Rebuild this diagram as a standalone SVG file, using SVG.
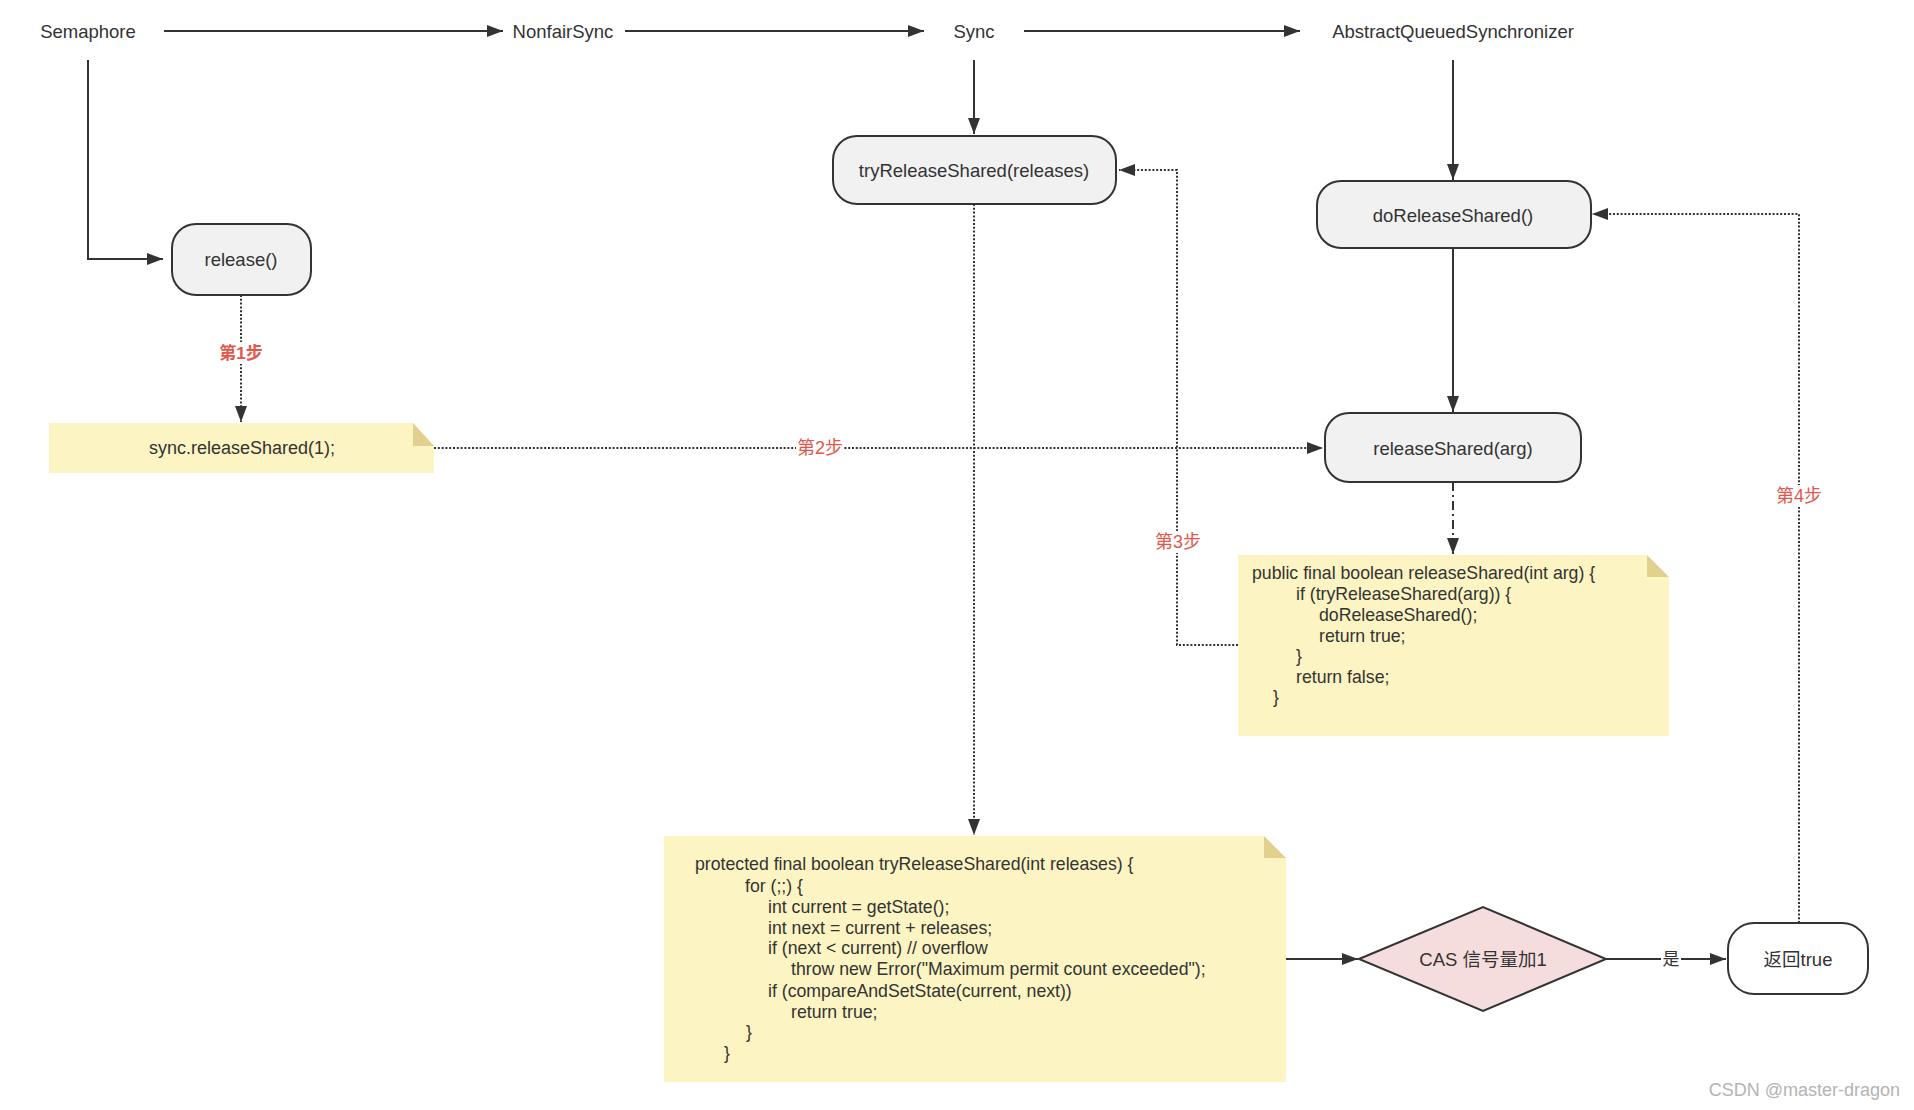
<svg xmlns="http://www.w3.org/2000/svg" width="1914" height="1110" viewBox="0 0 1914 1110">
<style>
text{font-family:"Liberation Sans",Arial,"Noto Sans CJK SC",sans-serif;fill:#333;}
.lbl{font-size:18.5px;text-anchor:middle;dominant-baseline:central;}
.code{font-size:17.7px;}
.step{font-size:18px;fill:#e2574c;text-anchor:middle;dominant-baseline:central;}
.box{fill:#f1f1f1;stroke:#333;stroke-width:2;}
.note{fill:#fcf4c2;}
.fold{fill:#e2d08f;}
.ln{fill:none;stroke:#333;stroke-width:2;}
.dot{fill:none;stroke:#333;stroke-width:2;stroke-dasharray:2 1.8;}
.dashdot{fill:none;stroke:#333;stroke-width:2;stroke-dasharray:9 4 2 4;}
.bg{fill:#fff;}
</style>
<defs>
<marker id="arr" markerUnits="userSpaceOnUse" markerWidth="17" markerHeight="12" refX="16" refY="6" orient="auto">
<path d="M0,0 L16,6 L0,12 z" fill="#333"/>
</marker>
</defs>
<rect width="1914" height="1110" fill="#fff"/>

<g id="connectors">
<line class="ln" x1="164" y1="31" x2="503" y2="31" marker-end="url(#arr)"/>
<line class="ln" x1="625" y1="31" x2="924" y2="31" marker-end="url(#arr)"/>
<line class="ln" x1="1024" y1="31" x2="1300" y2="31" marker-end="url(#arr)"/>
<path class="ln" d="M88,60 V259 H163" marker-end="url(#arr)"/>
<line class="ln" x1="974" y1="60" x2="974" y2="134" marker-end="url(#arr)"/>
<line class="ln" x1="1453" y1="60" x2="1453" y2="180" marker-end="url(#arr)"/>
<line class="ln" x1="1453" y1="248" x2="1453" y2="412" marker-end="url(#arr)"/>
<line class="dot" x1="241" y1="295" x2="241" y2="422" marker-end="url(#arr)"/>
<line class="dot" x1="434" y1="448" x2="1323" y2="448" marker-end="url(#arr)"/>
<line class="dot" x1="974" y1="204" x2="974" y2="835" marker-end="url(#arr)"/>
<path class="dot" d="M1238,645 H1177 V170 H1119" marker-end="url(#arr)"/>
<line class="dashdot" x1="1453" y1="482" x2="1453" y2="554" marker-end="url(#arr)"/>
<path class="dot" d="M1799,923 V214 H1592" marker-end="url(#arr)"/>
<line class="ln" x1="1286" y1="959" x2="1358" y2="959" marker-end="url(#arr)"/>
<line class="ln" x1="1606" y1="959" x2="1726" y2="959" marker-end="url(#arr)"/>
<rect class="bg" x="219" y="342" width="44" height="22"/>
<text class="step" x="241" y="353" font-weight="bold" style="font-size:17px">第1步</text>
<rect class="bg" x="796" y="437" width="48" height="22"/>
<text class="step" x="820" y="448">第2步</text>
<rect class="bg" x="1154" y="531" width="48" height="22"/>
<text class="step" x="1178" y="542">第3步</text>
<rect class="bg" x="1775" y="485" width="48" height="22"/>
<text class="step" x="1799" y="496">第4步</text>
<rect class="bg" x="1661" y="948" width="20" height="22"/>
<text class="lbl" x="1671" y="959" style="font-size:17px">是</text>
</g>

<g id="semaphore"><text class="lbl" x="88" y="31">Semaphore</text></g>
<g id="nonfairsync"><text class="lbl" x="563" y="31">NonfairSync</text></g>
<g id="sync"><text class="lbl" x="974" y="31">Sync</text></g>
<g id="aqs"><text class="lbl" x="1453" y="31">AbstractQueuedSynchronizer</text></g>

<g id="release">
<rect class="box" x="172" y="224" width="139" height="71" rx="24" ry="24"/>
<text class="lbl" x="241" y="259">release()</text>
</g>

<g id="note-sync-release">
<path class="note" d="M49,423 H413 L434,446 V473 H49 z"/>
<path class="fold" d="M413,423 V446 H434 z"/>
<text class="lbl" x="242" y="448" style="font-size:18px">sync.releaseShared(1);</text>
</g>

<g id="tryReleaseShared">
<rect class="box" x="833" y="136" width="283" height="68" rx="24" ry="24"/>
<text class="lbl" x="974" y="170">tryReleaseShared(releases)</text>
</g>

<g id="doReleaseShared">
<rect class="box" x="1317" y="181" width="274" height="67" rx="24" ry="24"/>
<text class="lbl" x="1453" y="215">doReleaseShared()</text>
</g>

<g id="releaseShared">
<rect class="box" x="1325" y="413" width="256" height="69" rx="24" ry="24"/>
<text class="lbl" x="1453" y="448">releaseShared(arg)</text>
</g>

<g id="note-releaseShared">
<path class="note" d="M1238,555 H1647 L1669,577 V736 H1238 z"/>
<path class="fold" d="M1647,555 V577 H1669 z"/>
<text class="code" x="1252" y="579">public final boolean releaseShared(int arg) {</text>
<text class="code" x="1296" y="600">if (tryReleaseShared(arg)) {</text>
<text class="code" x="1319" y="621">doReleaseShared();</text>
<text class="code" x="1319" y="642">return true;</text>
<text class="code" x="1296" y="662">}</text>
<text class="code" x="1296" y="683">return false;</text>
<text class="code" x="1273" y="703">}</text>
</g>

<g id="note-tryReleaseShared">
<path class="note" d="M664,836 H1264 L1286,858 V1082 H664 z"/>
<path class="fold" d="M1264,836 V858 H1286 z"/>
<text class="code" x="695" y="870">protected final boolean tryReleaseShared(int releases) {</text>
<text class="code" x="745" y="892">for (;;) {</text>
<text class="code" x="768" y="913">int current = getState();</text>
<text class="code" x="768" y="934">int next = current + releases;</text>
<text class="code" x="768" y="954">if (next &lt; current) // overflow</text>
<text class="code" x="791" y="975">throw new Error("Maximum permit count exceeded");</text>
<text class="code" x="768" y="997">if (compareAndSetState(current, next))</text>
<text class="code" x="791" y="1018">return true;</text>
<text class="code" x="746" y="1038">}</text>
<text class="code" x="724" y="1059">}</text>
</g>

<g id="cas">
<polygon points="1359,959 1483,907 1606,959 1483,1011" fill="#f5dddd" stroke="#333" stroke-width="2"/>
<text class="lbl" x="1483" y="959">CAS 信号量加1</text>
</g>

<g id="return-true">
<rect x="1728" y="923" width="140" height="71" rx="26" ry="26" fill="#fff" stroke="#333" stroke-width="2"/>
<text class="lbl" x="1798" y="959">返回true</text>
</g>

<g id="watermark">
<text x="1900" y="1096" text-anchor="end" style="font-size:18px;fill:#b4b4b4">CSDN @master-dragon</text>
</g>
</svg>
